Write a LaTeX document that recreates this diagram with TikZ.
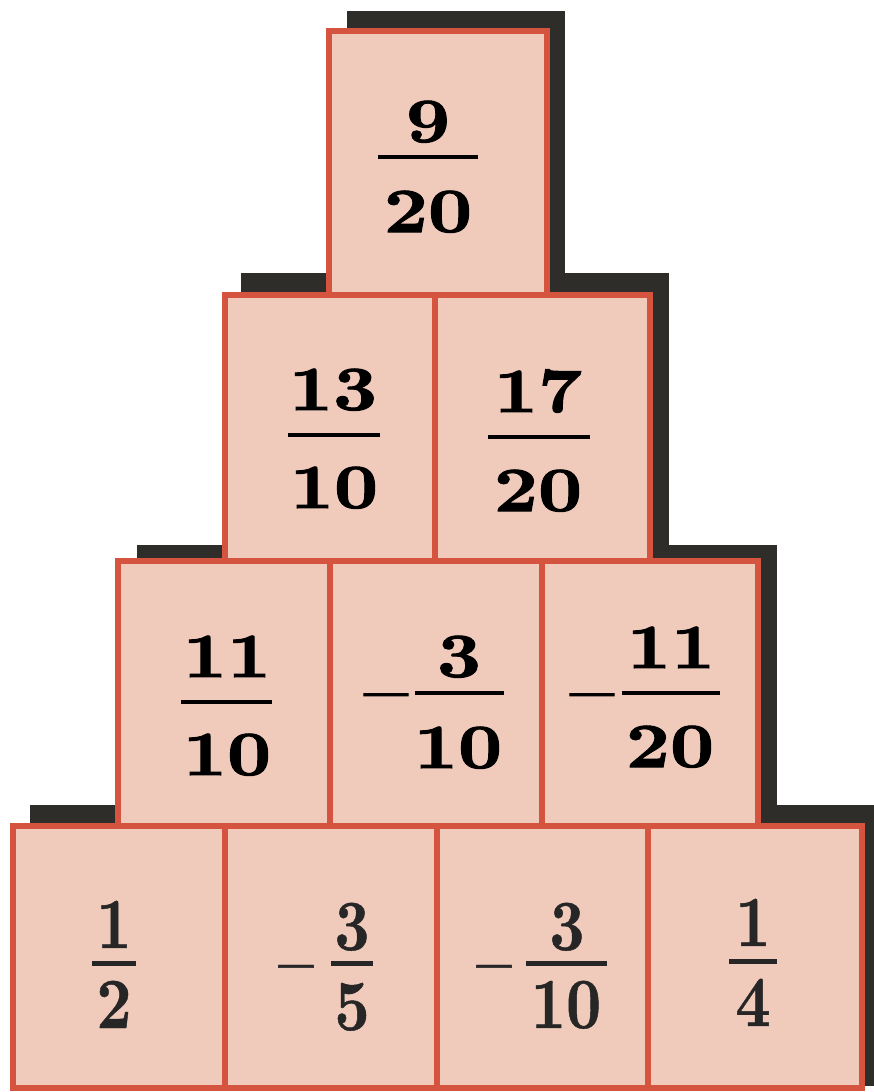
\documentclass[tikz,border=0pt]{standalone}
\usepackage{fontspec}
\newfontfamily\topf[FakeBold=1.6,FakeStretch=1.22]{lmroman10-bold.otf}
\newfontfamily\botf[FakeBold=0.6,FakeStretch=0.85]{lmroman10-bold.otf}
\definecolor{brick}{HTML}{F0CABB}
\definecolor{edgered}{HTML}{D4543F}
\definecolor{shade}{HTML}{2F2D2A}
\tikzset{
  shadowbox/.style={fill=shade, draw=none},
  brickcell/.style={fill=brick, draw=edgered, line width=5.5pt},
  numtop/.style={font=\fontsize{63}{63}\topf, inner sep=0pt, anchor=base},
  numbot/.style={font=\fontsize{72}{72}\botf, inner sep=0pt, anchor=base, text=black!85},
  bartop/.style={line width=3.5pt, line cap=butt},
  barbot/.style={line width=5pt, line cap=butt, black!85},
  minustop/.style={font=\fontsize{63}{63}\topf, inner sep=0pt, anchor=base},
  minusbot/.style={font=\fontsize{72}{72}\botf, inner sep=0pt, anchor=base, text=black!85},
}
\begin{document}
\begin{tikzpicture}[x=1pt,y=-1pt]
\useasboundingbox (0,0) rectangle (873,1092);
\fill[white] (0,0) rectangle (873,1092);
% shadows
\fill[shadowbox] (347,11) rectangle (565,280);
\fill[shadowbox] (241,273) rectangle (669,548);
\fill[shadowbox] (137,545) rectangle (777,815);
\fill[shadowbox] (30,805) rectangle (885,1086);
% blocks
\draw[brickcell] (329,31) rectangle (547,295);
\draw[brickcell] (225,295) rectangle (435,561);
\draw[brickcell] (435,295) rectangle (650,561);
\draw[brickcell] (118,561) rectangle (330,826);
\draw[brickcell] (330,561) rectangle (542,826);
\draw[brickcell] (542,561) rectangle (758,826);
\draw[brickcell] (13,826) rectangle (225,1088);
\draw[brickcell] (225,826) rectangle (437,1088);
\draw[brickcell] (437,826) rectangle (648,1088);
\draw[brickcell] (648,826) rectangle (862,1088);
% top: 9/20
\node[numtop] (a1) at (428,142) {9};
\draw[bartop] (378,157) -- (478,157);
\node[numtop] (a2) at (428,232) {20};
% row 2
\node[numtop] (b1) at (333,410) {13};
\draw[bartop] (288,435) -- (380,435);
\node[numtop] (b2) at (334,508) {10};
\node[numtop] (c1) at (538,412) {17};
\draw[bartop] (488,437) -- (590,437);
\node[numtop] (c2) at (538,511) {20};
% row 3
\node[numtop] (d1) at (227,677) {11};
\draw[bartop] (181,702) -- (272,702);
\node[numtop] (d2) at (227,775) {10};
\node[minustop] (em) at (386,712) {–};
\node[numtop] (e1) at (459,677) {3};
\draw[bartop] (415,693) -- (504,693);
\node[numtop] (e2) at (458,768) {10};
\node[minustop] (fm) at (592,712) {–};
\node[numtop] (f1) at (671,668) {11};
\draw[bartop] (622,693) -- (720,693);
\node[numtop] (f2) at (670,767) {20};
% row 4
\node[numbot] (g1) at (114,948) {1};
\draw[barbot] (92,963) -- (136,963);
\node[numbot] (g2) at (114,1028) {2};
\node[minusbot] (hm) at (296,986) {–};
\node[numbot] (h1) at (352,950) {3};
\draw[barbot] (331,963) -- (373,963);
\node[numbot] (h2) at (352,1030) {5};
\node[minusbot] (im) at (494,986) {–};
\node[numbot] (i1) at (567,950) {3};
\draw[barbot] (526,963) -- (607,963);
\node[numbot] (i2) at (566,1028) {10};
\node[numbot] (j1) at (753,946) {1};
\draw[barbot] (729,961) -- (777,961);
\node[numbot] (j2) at (753,1026) {4};
\end{tikzpicture}
\end{document}
